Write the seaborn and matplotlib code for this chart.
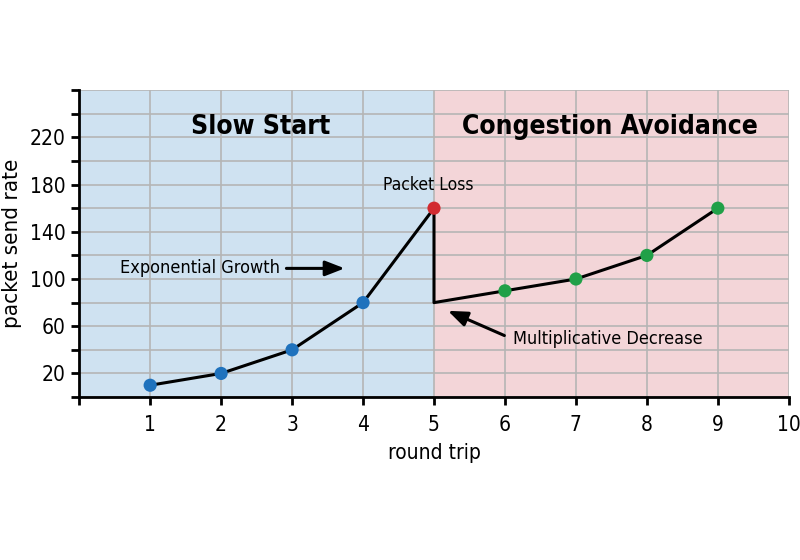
import numpy as np
import pandas as pd
import matplotlib
matplotlib.use('agg')
import matplotlib.pyplot as plt
import seaborn as sns
from matplotlib import font_manager

# --- data
round_trip = [1, 2, 3, 4, 5, 5, 6, 7, 8, 9]
send_rate = [10, 20, 40, 80, 160, 80, 90, 100, 120, 160]
phase = ["slow", "slow", "slow", "slow", "loss", None, "avoid", "avoid", "avoid", "avoid"]

ytick_labels = [20, 60, 100, 140, 180, 220]
xtick_labels = [1, 2, 3, 4, 5, 6, 7, 8, 9, 10]

sns.set_theme(style="white")

# narrow face to get near the condensed look of the original
names = {f.name for f in font_manager.fontManager.ttflist}
narrow = [n for n in ['Liberation Sans Narrow', 'DejaVu Sans'] if n in names]
plt.rcParams['font.family'] = narrow + ['DejaVu Sans']
plt.rcParams['font.stretch'] = 'condensed'
plt.rcParams.update({'text.color': 'black', 'axes.labelcolor': 'black',
                     'xtick.color': 'black', 'ytick.color': 'black'})

df = pd.DataFrame({"round trip": round_trip, "rate": send_rate, "phase": phase})

fig = plt.figure(figsize=(8, 5.6), dpi=100)
ax = fig.add_axes([0.099, 0.291, 0.887, 0.548])

# background regions
ax.axvspan(0, 5, color="#cfe2f1", zorder=0)
ax.axvspan(5, 10, color="#f3d5d8", zorder=0)

# line through every point in order
sns.lineplot(data=df, x="round trip", y="rate", sort=False, estimator=None,
             color="black", linewidth=2.2, ax=ax, zorder=3)

pts = df.dropna(subset=["phase"])
sns.scatterplot(data=pts, x="round trip", y="rate", hue="phase",
                palette={"slow": "#1f72bd", "loss": "#d22b31", "avoid": "#21a048"},
                s=90, edgecolor="none", legend=False, ax=ax, zorder=4)

ax.set_xlim(0, 10)
ax.set_ylim(0, 260)

ax.set_xticks(range(0, 11))
ax.set_xticklabels([""] + [str(v) for v in xtick_labels])
ax.set_yticks(range(0, 261, 20))
ax.set_yticklabels(["" if v not in ytick_labels else str(v) for v in range(0, 261, 20)])

ax.grid(True, color="#b5b5b5", linewidth=1.2)
ax.set_axisbelow(False)
for line in ax.get_xgridlines() + ax.get_ygridlines():
    line.set_zorder(1)

for axis in ['top', 'right']:
    ax.spines[axis].set_visible(False)
for axis in ['left', 'bottom']:
    ax.spines[axis].set_linewidth(2.0)
    ax.spines[axis].set_color("black")
    ax.spines[axis].set_zorder(5)

ax.tick_params(which='both', direction='out', width=2.0, length=6,
               color="black", labelsize=15, left=True, bottom=True)
ax.tick_params(axis='y', pad=4)
ax.tick_params(axis='x', pad=7)

ax.set_xlabel("round trip", fontsize=15, labelpad=6)
ax.set_ylabel("packet send rate", fontsize=16, labelpad=5)

# headings and notes
ax.text(2.55, 229, "Slow Start", fontsize=19, fontweight="bold",
        ha="center", va="center", zorder=6)
ax.text(7.48, 229, "Congestion Avoidance", fontsize=19, fontweight="bold",
        ha="center", va="center", zorder=6)
ax.text(4.92, 180, "Packet Loss", fontsize=12.5, ha="center", va="center", zorder=6)

ax.annotate("Exponential Growth", xy=(3.78, 109), xytext=(0.58, 109),
            fontsize=13, ha="left", va="center", zorder=6,
            arrowprops=dict(arrowstyle="-|>,head_length=0.9,head_width=0.35",
                            color="black", lw=2.2, shrinkA=2, relpos=(1, 0.5)))
ax.annotate("Multiplicative Decrease", xy=(5.16, 74), xytext=(6.11, 49),
            fontsize=13, ha="left", va="center", zorder=6,
            arrowprops=dict(arrowstyle="-|>,head_length=0.9,head_width=0.35",
                            color="black", lw=2.2, shrinkA=4, relpos=(0, 0.5)))

plt.savefig("out.png", dpi=100)
